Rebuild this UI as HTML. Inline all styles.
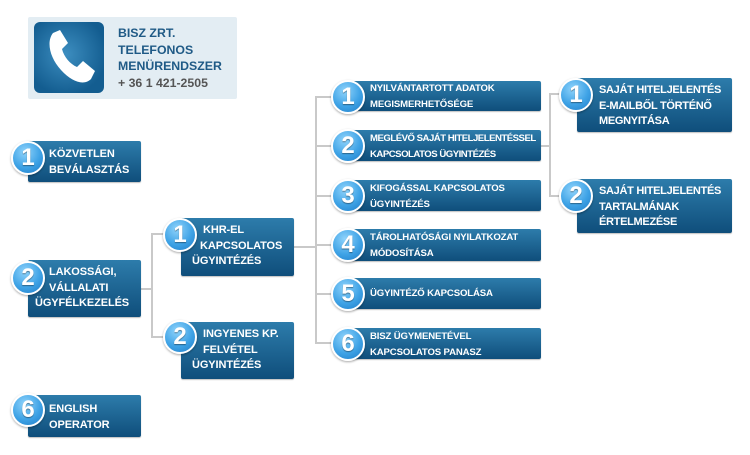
<!DOCTYPE html>
<html><head><meta charset="utf-8"><style>
body{margin:0;width:750px;height:455px;background:#fff;position:relative;overflow:hidden;font-family:"Liberation Sans",Arial,sans-serif}
.b{position:absolute;background:linear-gradient(#2d7cab,#0f4e7b);border-radius:2px;box-shadow:0 1px 1px rgba(0,0,0,.25)}
.t{position:absolute;color:#fff;font-weight:bold;white-space:nowrap}
.c{position:absolute;width:30px;height:30px;border-radius:50%;border:2px solid #fff;background:radial-gradient(circle at 40% 30%,#8fd3fb,#3fa3e6 55%,#1f7cc7);color:#fff;font-weight:bold;font-size:24px;line-height:30px;text-align:center;box-shadow:0 1px 2px rgba(0,0,0,.35);text-shadow:0 1px 1px rgba(0,0,0,.4)}
.l{position:absolute;background:#c9c9c9}
.s{font-size:11px;line-height:15.5px;letter-spacing:-0.1px}
.r{font-size:9.6px;line-height:16px;letter-spacing:-0.15px}
</style></head><body>
<div style="position:absolute;left:28px;top:17px;width:209px;height:82px;background:#e3edf3;border-radius:2px"></div>
<div style="position:absolute;left:34px;top:22px;width:70px;height:71px;border-radius:6px;background:radial-gradient(circle at 45% 45%,#3d8ec0,#135d90 75%)"></div>
<svg style="position:absolute;left:44px;top:30px" width="52" height="55" viewBox="0 0 52 55"><path d="M9 3 L16 0 L24 13 L18 19 C20 27 26 34 33 37 L39 31 L51 41 L47 49 C40 56 28 52 17 40 C6 28 2 12 9 3 Z" fill="#fff"/></svg>
<div class="t" style="left:118px;top:25px;color:#1f5a86;font-size:12.3px;line-height:16.5px">BISZ ZRT.<br>TELEFONOS<br>MENÜRENDSZER<br><span style="color:#555">+ 36 1 421-2505</span></div>

<!-- lines -->
<div class="l" style="left:141px;top:288px;width:12px;height:2px"></div>
<div class="l" style="left:151px;top:233px;width:2px;height:105px"></div>
<div class="l" style="left:151px;top:233px;width:25px;height:2px"></div>
<div class="l" style="left:151px;top:336px;width:25px;height:2px"></div>
<div class="l" style="left:294px;top:246px;width:23px;height:2px"></div>
<div class="l" style="left:315px;top:96px;width:2px;height:248px"></div>
<div class="l" style="left:315px;top:96px;width:20px;height:2px"></div>
<div class="l" style="left:315px;top:145px;width:20px;height:2px"></div>
<div class="l" style="left:315px;top:195px;width:20px;height:2px"></div>
<div class="l" style="left:315px;top:244px;width:20px;height:2px"></div>
<div class="l" style="left:315px;top:293px;width:20px;height:2px"></div>
<div class="l" style="left:315px;top:342px;width:20px;height:2px"></div>
<div class="l" style="left:540px;top:145px;width:10px;height:2px"></div>
<div class="l" style="left:549px;top:93px;width:2px;height:104px"></div>
<div class="l" style="left:549px;top:93px;width:15px;height:2px"></div>
<div class="l" style="left:549px;top:195px;width:15px;height:2px"></div>

<!-- left -->
<div class="b" style="left:28px;top:141px;width:113px;height:41px"></div>
<div class="t s" style="left:49px;top:147px">KÖZVETLEN<br>BEVÁLASZTÁS</div>
<div class="c" style="left:11px;top:141px">1</div>
<div class="b" style="left:28px;top:260px;width:113px;height:57px"></div>
<div class="t s" style="left:49px;top:265px">LAKOSSÁGI,<br>VÁLLALATI<br><span style="margin-left:-14px">ÜGYFÉLKEZELÉS</span></div>
<div class="c" style="left:11px;top:261px">2</div>
<div class="b" style="left:28px;top:395px;width:113px;height:42px"></div>
<div class="t s" style="left:49px;top:402px">ENGLISH<br>OPERATOR</div>
<div class="c" style="left:11px;top:393px">6</div>

<!-- mid -->
<div class="b" style="left:181px;top:218px;width:113px;height:58px"></div>
<div class="t s" style="left:203px;top:223px">KHR-EL<br><span style="margin-left:-3px">KAPCSOLATOS</span><br><span style="margin-left:-11px">ÜGYINTÉZÉS</span></div>
<div class="c" style="left:163px;top:218px">1</div>
<div class="b" style="left:181px;top:322px;width:113px;height:57px"></div>
<div class="t s" style="left:203px;top:327px">INGYENES KP.<br>FELVÉTEL<br><span style="margin-left:-11px">ÜGYINTÉZÉS</span></div>
<div class="c" style="left:163px;top:320px">2</div>

<!-- right column -->
<div class="b" style="left:345px;top:81px;width:196px;height:30px"></div>
<div class="t r" style="left:370px;top:81px">NYILVÁNTARTOTT ADATOK<br>MEGISMERHETŐSÉGE</div>
<div class="c" style="left:331px;top:80px">1</div>
<div class="b" style="left:345px;top:130px;width:196px;height:31px"></div>
<div class="t r" style="left:370px;top:131px;letter-spacing:-.5px">MEGLÉVŐ SAJÁT HITELJELENTÉSSEL<br>KAPCSOLATOS ÜGYINTÉZÉS</div>
<div class="c" style="left:331px;top:129px">2</div>
<div class="b" style="left:345px;top:180px;width:196px;height:31px"></div>
<div class="t r" style="left:370px;top:181px">KIFOGÁSSAL KAPCSOLATOS<br>ÜGYINTÉZÉS</div>
<div class="c" style="left:331px;top:179px">3</div>
<div class="b" style="left:345px;top:229px;width:196px;height:32px"></div>
<div class="t r" style="left:370px;top:230px">TÁROLHATÓSÁGI NYILATKOZAT<br>MÓDOSÍTÁSA</div>
<div class="c" style="left:331px;top:228px">4</div>
<div class="b" style="left:345px;top:278px;width:196px;height:31px"></div>
<div class="t r" style="left:370px;top:286px">ÜGYINTÉZŐ KAPCSOLÁSA</div>
<div class="c" style="left:331px;top:277px">5</div>
<div class="b" style="left:345px;top:328px;width:196px;height:31px"></div>
<div class="t r" style="left:370px;top:329px">BISZ ÜGYMENETÉVEL<br>KAPCSOLATOS PANASZ</div>
<div class="c" style="left:331px;top:327px">6</div>

<!-- far right -->
<div class="b" style="left:577px;top:78px;width:155px;height:54px"></div>
<div class="t s" style="left:599px;top:83px;letter-spacing:-0.3px">SAJÁT HITELJELENTÉS<br>E-MAILBŐL TÖRTÉNŐ<br>MEGNYITÁSA</div>
<div class="c" style="left:559px;top:78px">1</div>
<div class="b" style="left:577px;top:179px;width:155px;height:54px"></div>
<div class="t s" style="left:599px;top:184px;letter-spacing:-0.3px">SAJÁT HITELJELENTÉS<br>TARTALMÁNAK<br>ÉRTELMEZÉSE</div>
<div class="c" style="left:559px;top:179px">2</div>
</body></html>
